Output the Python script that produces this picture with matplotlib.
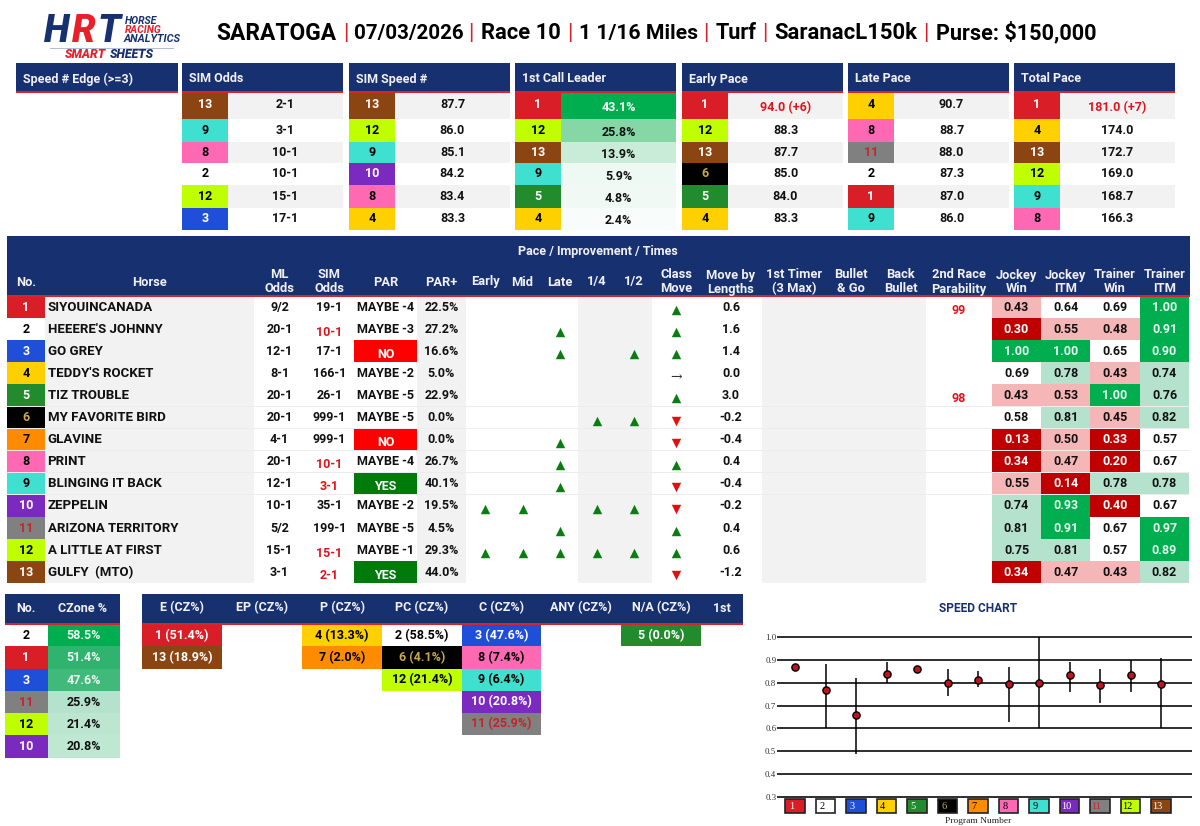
import numpy as np
import matplotlib
matplotlib.use('Agg')
import matplotlib.pyplot as plt
from matplotlib.patches import Rectangle

plt.rcParams['font.family'] = ['Roboto', 'DejaVu Sans']

NAVY = '#17306f'
RED_LINE = '#d8232a'
GREY = '#f2f2f2'

# saddle cloth colours, program number -> (fill, text)
CLOTH = {1: ('#d91e28', 'white'), 2: ('white', 'black'), 3: ('#1f4fd8', 'white'),
         4: ('#ffd000', 'black'), 5: ('#228b2e', 'white'), 6: ('black', '#c9a94a'),
         7: ('#ff8c00', 'black'), 8: ('#ff69b4', 'black'), 9: ('#40e0d0', 'black'),
         10: ('#7b2abf', 'white'), 11: ('#808080', '#c8222f'), 12: ('#bfff00', 'black'),
         13: ('#8b4513', 'white')}

title_parts = ['SARATOGA', '07/03/2026', 'Race 10', '1 1/16 Miles', 'Turf', 'SaranacL150k', 'Purse: $150,000']

# top summary tables
sim_odds_no = [13, 9, 8, 2, 12, 3]
sim_odds_val = ['2-1', '3-1', '10-1', '10-1', '15-1', '17-1']
sim_speed_no = [13, 12, 9, 10, 8, 4]
sim_speed_val = ['87.7', '86.0', '85.1', '84.2', '83.4', '83.3']
leader_no = [1, 12, 13, 9, 5, 4]
leader_val = ['43.1%', '25.8%', '13.9%', '5.9%', '4.8%', '2.4%']
early_no = [1, 12, 13, 6, 5, 4]
early_val = ['94.0 (+6)', '88.3', '87.7', '85.0', '84.0', '83.3']
late_no = [4, 8, 11, 2, 1, 9]
late_val = ['90.7', '88.7', '88.0', '87.3', '87.0', '86.0']
total_no = [1, 4, 13, 12, 9, 8]
total_val = ['181.0 (+7)', '174.0', '172.7', '169.0', '168.7', '166.3']

# main table
horses = ['SIYOUINCANADA', "HEEERE'S JOHNNY", 'GO GREY', "TEDDY'S ROCKET", 'TIZ TROUBLE',
          'MY FAVORITE BIRD', 'GLAVINE', 'PRINT', 'BLINGING IT BACK', 'ZEPPELIN',
          'ARIZONA TERRITORY', 'A LITTLE AT FIRST', 'GULFY  (MTO)']
ml_odds = ['9/2', '20-1', '12-1', '8-1', '20-1', '20-1', '4-1', '20-1', '12-1', '10-1', '5/2', '15-1', '3-1']
sim_odds = ['19-1', '10-1', '17-1', '166-1', '26-1', '999-1', '999-1', '10-1', '3-1', '35-1', '199-1', '15-1', '2-1']
sim_odds_hot = [2, 8, 9, 12, 13]
par = ['MAYBE -4', 'MAYBE -3', 'NO', 'MAYBE -2', 'MAYBE -5', 'MAYBE -5', 'NO', 'MAYBE -4', 'YES',
       'MAYBE -2', 'MAYBE -5', 'MAYBE -1', 'YES']
par_plus = ['22.5%', '27.2%', '16.6%', '5.0%', '22.9%', '0.0%', '0.0%', '26.7%', '40.1%', '19.5%', '4.5%', '29.3%', '44.0%']
early_up = [10, 12]
mid_up = [10, 12]
late_up = [2, 3, 7, 8, 9, 11, 12]
quarter_up = [6, 10, 12]
half_up = [3, 6, 10, 12]
move_lengths = [0.6, 1.6, 1.4, 0.0, 3.0, -0.2, -0.4, 0.4, -0.4, -0.2, 0.4, 0.6, -1.2]
parability = {1: '99', 5: '98'}
jockey_win = [0.43, 0.30, 1.00, 0.69, 0.43, 0.58, 0.13, 0.34, 0.55, 0.74, 0.81, 0.75, 0.34]
jockey_itm = [0.64, 0.55, 1.00, 0.78, 0.53, 0.81, 0.50, 0.47, 0.14, 0.93, 0.91, 0.81, 0.47]
trainer_win = [0.69, 0.48, 0.65, 0.43, 1.00, 0.45, 0.33, 0.20, 0.78, 0.40, 0.67, 0.57, 0.43]
trainer_itm = [1.00, 0.91, 0.90, 0.74, 0.76, 0.82, 0.57, 0.67, 0.78, 0.67, 0.97, 0.89, 0.82]

# bottom tables
czone_no = [2, 1, 3, 11, 12, 10]
czone_pct = [58.5, 51.4, 47.6, 25.9, 21.4, 20.8]
cz_heads = ['E (CZ%)', 'EP (CZ%)', 'P (CZ%)', 'PC (CZ%)', 'C (CZ%)', 'ANY (CZ%)', 'N/A (CZ%)', '1st']
cz_no = [[1, 13], [], [4, 7], [2, 6, 12], [3, 8, 9, 10, 11], [], [5], []]
cz_pct = [[51.4, 18.9], [], [13.3, 2.0], [58.5, 4.1, 21.4], [47.6, 7.4, 6.4, 20.8, 25.9], [], [0.0], []]

# speed chart
program = np.arange(1, 14)
speed_mid = [0.87, 0.77, 0.66, 0.84, 0.86, 0.80, 0.81, 0.795, 0.80, 0.835, 0.79, 0.835, 0.795]
speed_low = [np.nan, 0.60, 0.49, 0.80, np.nan, 0.74, 0.78, 0.63, 0.60, 0.76, 0.71, 0.76, 0.60]
speed_high = [np.nan, 0.88, 0.82, 0.89, np.nan, 0.86, 0.85, 0.87, 1.00, 0.89, 0.86, 0.90, 0.91]

fig = plt.figure(figsize=(12, 8.26), dpi=100)
ax = fig.add_axes([0, 0, 1, 1])
ax.set_xlim(0, 1200)
ax.set_ylim(826, 0)
ax.axis('off')


def box(x0, y0, x1, y1, color, z=1):
    ax.add_patch(Rectangle((x0, y0), x1 - x0, y1 - y0, fc=color, ec='none', zorder=z))


def txt(x, y, s, color='#111111', size=9, ha='center', weight='bold', **kw):
    return ax.text(x, y, s, color=color, fontsize=size, ha=ha, va='center', fontweight=weight, zorder=5, **kw)


def header(x0, x1, y0, y1):
    box(x0, y0, x1, y1, NAVY, 2)
    box(x0, y1 - 1, x1, y1 + 1, RED_LINE, 3)


# logo
txt(44, 31, 'H', NAVY, 27, ha='left', style='italic', weight='black')
txt(72, 31, 'R', '#e8202a', 27, ha='left', style='italic', weight='black')
txt(98, 31, 'T', NAVY, 27, ha='left', style='italic', weight='black')
txt(125, 21, 'HORSE', NAVY, 7.5, ha='left', style='italic')
txt(125, 30, 'RACING', '#e8202a', 7.5, ha='left', style='italic')
txt(124, 39, 'ANALYTICS', NAVY, 7.8, ha='left', style='italic')
box(50, 47.5, 174, 48.5, '#b5bdd6')
txt(65, 55, 'SMART', '#e8202a', 8.8, ha='left', style='italic', weight='black')
txt(110, 55, 'SHEETS', NAVY, 8.8, ha='left', style='italic', weight='black')

# title words and the red bars between them
title_x = [216, 354, 481, 579, 716, 774, 936]
title_size = [16.4, 14.8, 15.8, 15.2, 15.6, 15.9, 15.6]
bar_x = [346, 471, 569.5, 706, 764.5, 926]
for x, part, size in zip(title_x, title_parts, title_size):
    txt(x, 33, part, 'black', size, ha='left')
for x in bar_x:
    txt(x, 33, '|', '#d8232a', 15.8, weight='normal')

# top tables
top_rows = [92, 119, 142, 163, 185, 208, 230]
top_x = [182, 349, 515, 682, 848, 1014]
top_heads = ['SIM Odds', 'SIM Speed #', '1st Call Leader', 'Early Pace', 'Late Pace', 'Total Pace']
top_no = [sim_odds_no, sim_speed_no, leader_no, early_no, late_no, total_no]
top_val = [sim_odds_val, sim_speed_val, leader_val, early_val, late_val, total_val]
leader_shade = ['#00ad4f', '#85d7a6', '#c9ecd8', '#eef9f3', '#f0f9f4', '#f8fcfa']
top_w = 161
no_w = 46

header(16, 178, 63, 92)
txt(23, 79, 'Speed # Edge (>=3)', '#f0f0f5', ha='left')
for k, x0 in enumerate(top_x):
    header(x0, x0 + top_w, 63, 92)
    txt(x0 + 7, 79, top_heads[k], '#f0f0f5', ha='left')
    for r in range(6):
        y0, y1 = top_rows[r], top_rows[r + 1]
        ym = (y0 + y1) / 2
        if r % 2 == 0:
            box(x0 + no_w, y0, x0 + top_w, y1 - 0.5, GREY)
        box(x0 + no_w, y1 - 0.5, x0 + top_w, y1, '#e4e4e4')
        fill, tc = CLOTH[top_no[k][r]]
        box(x0, y0, x0 + no_w, y1 - 0.5, fill, 2)
        txt(x0 + no_w / 2, ym - 0.5, str(top_no[k][r]), tc)
        xc = x0 + no_w + (top_w - no_w) / 2
        val = top_val[k][r]
        if k == 2:
            box(x0 + no_w, y0, x0 + top_w, y1 - 0.5, leader_shade[r], 2)
            txt(xc, ym + 2, val, 'white' if r == 0 else '#111111')
        elif '(+' in val:
            txt(xc, ym + 2, val, '#e0141c')
        else:
            txt(xc, ym - 0.5, val)

# main table
main_edges = [7, 45, 254, 305, 354, 417, 466, 504, 541, 578, 615, 652, 700, 762, 826, 875, 926, 992, 1041, 1090, 1140, 1189]
main_heads = [['No.'], ['Horse'], ['ML', 'Odds'], ['SIM', 'Odds'], ['PAR'], ['PAR+'], ['Early'], ['Mid'], ['Late'],
              ['1/4'], ['1/2'], ['Class', 'Move'], ['Move by', 'Lengths'], ['1st Timer', '(3 Max)'], ['Bullet', '& Go'],
              ['Back', 'Bullet'], ['2nd Race', 'Parability'], ['Jockey', 'Win'], ['Jockey', 'ITM'], ['Trainer', 'Win'],
              ['Trainer', 'ITM']]
centers = [(a + b) / 2 for a, b in zip(main_edges[:-1], main_edges[1:])]
top_main, row_h = 296, 22.1

box(7, 236, 1190, top_main, NAVY, 2)
box(7, top_main - 1, 1190, top_main + 1, RED_LINE, 3)
txt(598, 251, 'Pace / Improvement / Times', '#f0f0f5', 9)
for c, lines in zip(centers, main_heads):
    if len(lines) == 1:
        txt(c, 282, lines[0], '#f0f0f5', 9.3)
    else:
        txt(c, 275, lines[0], '#f0f0f5', 9.3)
        txt(c, 289, lines[1], '#f0f0f5', 9.3)

tail = top_main + 13 * row_h
for a, b in [(1, 2), (5, 6), (9, 10), (10, 11), (13, 14), (14, 15), (15, 16)]:
    box(main_edges[a], top_main, main_edges[b], tail, GREY)


def shade(v):
    if v < 0.41:
        return '#c00000', 'white'
    if v < 0.56:
        return '#f4b6b6', '#111111'
    if v < 0.70:
        return 'white', '#111111'
    if v < 0.85:
        return '#b5e2cc', '#111111'
    return '#00ad4f', '#e8f7ee'


up_cols = {6: early_up, 7: mid_up, 8: late_up, 9: quarter_up, 10: half_up}
up_x, up_y, down_x, down_y = [], [], [], []

for r in range(13):
    y0 = top_main + r * row_h
    y1 = y0 + row_h
    ym = (y0 + y1) / 2
    no = r + 1
    box(7, y1 - 0.5, 1190, y1, '#ececec', 1.5)
    fill, tc = CLOTH[no]
    box(7, y0, 45, y1 - 0.5, fill, 2)
    txt(centers[0], ym, str(no), tc)
    txt(47.5, ym, horses[r], ha='left', size=9.5)
    txt(centers[2], ym, ml_odds[r])
    if no in sim_odds_hot:
        txt(centers[3], ym + 3, sim_odds[r], '#e0141c')
    else:
        txt(centers[3], ym, sim_odds[r])
    if par[r] == 'NO':
        box(main_edges[4], y0, main_edges[5], y1 - 0.5, '#ff0000', 2)
        txt(centers[4], ym + 3, 'NO', 'white')
    elif par[r] == 'YES':
        box(main_edges[4], y0, main_edges[5], y1 - 0.5, '#007a0a', 2)
        txt(centers[4], ym + 3, 'YES', 'white')
    else:
        txt(centers[4], ym, par[r])
    txt(centers[5], ym, par_plus[r])
    for col, rows in up_cols.items():
        if no in rows:
            up_x.append(centers[col])
            up_y.append(ym + 3)
    mv = move_lengths[r]
    if mv > 0:
        up_x.append(centers[11])
        up_y.append(ym + 3)
    elif mv < 0:
        down_x.append(centers[11])
        down_y.append(ym + 3)
    else:
        ax.text(centers[11], ym + 3, '\u2192', color='#333333', fontsize=10, ha='center', va='center',
                family='DejaVu Serif', zorder=5)
    txt(centers[12], ym, f'{mv:.1f}')
    if no in parability:
        txt(centers[16], ym + 3, parability[no], '#e0141c')
    for col, vals in zip((17, 18, 19, 20), (jockey_win, jockey_itm, trainer_win, trainer_itm)):
        cf, ct = shade(vals[r])
        box(main_edges[col], y0, main_edges[col + 1], y1 - 0.5, cf, 2)
        txt(centers[col], ym, f'{vals[r]:.2f}', ct)

ax.scatter(up_x, up_y, marker='^', s=46, c='#0a7d12', linewidths=0, zorder=5)
ax.scatter(down_x, down_y, marker='v', s=46, c='#e01010', linewidths=0, zorder=5)

# bottom left: CZone %
bot_rows = [625, 646, 669, 691, 713, 735, 758]
cz_shade = ['#00ad4f', '#2fb36e', '#40b97a', '#b5e2cc', '#bde6d1', '#bfe8d3']
header(5, 120, 594, 624)
txt(26, 608, 'No.', '#f0f0f5')
txt(83, 608, 'CZone %', '#f0f0f5')
for r in range(6):
    y0, y1 = bot_rows[r], bot_rows[r + 1]
    ym = (y0 + y1) / 2
    fill, tc = CLOTH[czone_no[r]]
    box(5, y0, 48, y1, fill, 2)
    txt(26, ym, str(czone_no[r]), tc)
    box(48, y0, 120, y1, cz_shade[r], 2)
    txt(84, ym, f'{czone_pct[r]:.1f}%', '#e8f7ee' if r < 3 else '#111111')

# bottom middle: running style buckets
cz_edges = [142, 222, 302, 382, 462, 541, 621, 701, 743]
header(142, 743, 594, 624)
for k, head in enumerate(cz_heads):
    x0, x1 = cz_edges[k], cz_edges[k + 1]
    xc = (x0 + x1) / 2
    txt(xc, 608, head, '#f0f0f5')
    if k > 0:
        box(x0 - 0.4, 594, x0 + 0.4, 623, '#8a9cc8', 3)
    for r, (no, pct) in enumerate(zip(cz_no[k], cz_pct[k])):
        y0, y1 = bot_rows[r], bot_rows[r + 1]
        fill, tc = CLOTH[no]
        box(x0, y0, x1, y1, fill, 2)
        txt(xc, (y0 + y1) / 2, f'{no} ({pct:.1f}%)', tc)

# speed chart
txt(978, 608, 'SPEED CHART', NAVY, 8.6)
sp = fig.add_axes([777 / 1200, (826 - 797) / 826, 415 / 1200, 160 / 826])
sp.set_xlim(1 - 18 / 30.5, 1 + 397 / 30.5)
sp.set_ylim(0.3, 1.0)
sp.patch.set_alpha(0)
for s in sp.spines.values():
    s.set_visible(False)
yticks = np.arange(0.3, 1.01, 0.1)
sp.set_yticks(yticks)
sp.set_yticklabels([f'{v:.1f}' for v in yticks], family='Liberation Serif', fontsize=6.4, color='#333333')
sp.set_xticks([])
sp.tick_params(axis='y', length=0, pad=0.5)
sp.hlines(yticks, *sp.get_xlim(), color='black', lw=1.15, zorder=1, clip_on=False)
sp.vlines(program, speed_low, speed_high, color='black', lw=1.1, zorder=2, clip_on=False)
sp.plot(program, speed_mid, 'o', ms=5.2, mfc='#c1121f', mec='black', mew=1, zorder=3, clip_on=False)
sp.bar(program, 0.061, width=0.64, bottom=0.23, color=[CLOTH[p][0] for p in program], edgecolor='#222222',
       linewidth=1.2, clip_on=False, zorder=2)
for p in program:
    sp.text(p - 0.12, 0.26, str(p), color=CLOTH[p][1], fontsize=7.5, family='Liberation Serif',
            ha='center', va='center', clip_on=False, zorder=3)
txt(978, 821, 'Program Number', '#222222', 6.8, weight='normal', family='Liberation Serif')

fig.savefig('out.png', dpi=100)
